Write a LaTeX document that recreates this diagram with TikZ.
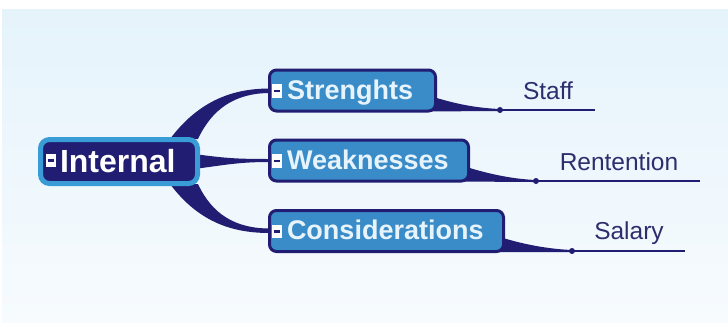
\documentclass[tikz,border=0pt]{standalone}
\usepackage{fontspec}
\setmainfont{Liberation Sans}
\usepackage{xcolor}
\usepackage{tikz}
\usetikzlibrary{positioning,calc}

\definecolor{navy}{HTML}{211D72}
\definecolor{skyedge}{HTML}{3A9CD6}
\definecolor{topicblue}{HTML}{3A8CC8}
\definecolor{topictext}{HTML}{E8F4FC}
\definecolor{leaftext}{HTML}{2E2E6E}
\definecolor{bgtop}{HTML}{E5F3FB}
\definecolor{bgbot}{HTML}{F7FBFE}

\pgfdeclarelayer{bg}
\pgfsetlayers{bg,main}

% collapse marker in front of a topic
\newcommand{\foldbox}[1]{\raisebox{#1}{\setlength{\fboxsep}{0pt}\colorbox{white}{\rule{0pt}{13.5pt}\makebox[10pt]{\color{navy}\rule[5.5pt]{6.5pt}{2.4pt}}}}}

\tikzset{
  central/.style={draw=skyedge, line width=5pt, fill=navy, rounded corners=9pt,
    text=white, font=\fontsize{32}{35}\selectfont\bfseries,
    text height=24pt, text depth=3pt, inner xsep=5.5pt, minimum height=44pt, align=left},
  topic/.style={draw=navy, line width=3pt, fill=topicblue, rounded corners=7pt,
    text=topictext, font=\fontsize{27}{30}\selectfont\bfseries,
    text height=20pt, text depth=3pt, inner xsep=2.5pt, minimum height=41pt, align=left},
  leaf/.style={anchor=base, text=leaftext, font=\fontsize{24.5}{28}\selectfont},
  branch/.style={fill=navy},
  leafline/.style={draw=navy, line width=1.6pt}
}

\begin{document}
\begin{tikzpicture}[x=1pt,y=-1pt]
\useasboundingbox (0,0) rectangle (728,322);

% Topics
\node[central, text width=146pt] (int) at (119,161.5) {\foldbox{5pt}\hspace{4pt}Internal};
\node[topic, text width=161pt] (str) at (352.5,90.5) {\foldbox{1.5pt}\hspace{5pt}Strenghts};
\node[topic, text width=194pt] (wea) at (369,160.5) {\foldbox{1.5pt}\hspace{5pt}Weaknesses};
\node[topic, text width=229pt] (con) at (386.5,231) {\foldbox{1.5pt}\hspace{5pt}Considerations};

% Subtopics
\coordinate (staffdot) at (500,110);
\coordinate (staffend) at (595,110);
\node[leaf] (staff) at (548,99.5) {Staff};
\coordinate (retdot) at (536,181);
\coordinate (retend) at (700,181);
\node[leaf] (ret) at (619,170) {Rentention};
\coordinate (saldot) at (572,251);
\coordinate (salend) at (685,251);
\node[leaf] (sal) at (629,239) {Salary};

\begin{pgfonlayer}{bg}
\fill[top color=bgtop, bottom color=bgbot] (2,9) rectangle (728,322);

% Main branches
\fill[branch] ($(int.north east)+(-30,2)$) .. controls +(30,-40) and +(-35,0) .. ($(str.west)+(2,-2)$)
  -- ($(str.west)+(2,2.5)$) .. controls +(-35,0) and +(14,-30) .. ($(int.north east)+(-2,2)$) -- cycle;
\fill[branch] ($(int.east)+(-2,-7)$) .. controls +(30,4) and +(-30,0) .. ($(wea.west)+(2,-1.5)$)
  -- ($(wea.west)+(2,1.5)$) .. controls +(-30,0) and +(30,-4) .. ($(int.east)+(-2,7)$) -- cycle;
\fill[branch] ($(int.south east)+(-30,-2)$) .. controls +(30,40) and +(-35,0) .. ($(con.west)+(2,2)$)
  -- ($(con.west)+(2,-2.5)$) .. controls +(-35,0) and +(14,30) .. ($(int.south east)+(-2,-2)$) -- cycle;

% Sub branches
\fill[branch] ($(str.south east)+(-2,-15)$) .. controls +(20,6) and +(-25,-1) .. ($(staffdot)+(0,-1)$)
  -- ($(staffdot)+(0,1)$) .. controls +(-25,0) and +(15,0) .. ($(str.south east)+(-8,-1)$) -- cycle;
\fill[branch] ($(wea.south east)+(-2,-15)$) .. controls +(20,6) and +(-25,-1) .. ($(retdot)+(0,-1)$)
  -- ($(retdot)+(0,1)$) .. controls +(-25,0) and +(15,0) .. ($(wea.south east)+(-8,-1)$) -- cycle;
\fill[branch] ($(con.south east)+(-2,-15)$) .. controls +(20,6) and +(-25,-1) .. ($(saldot)+(0,-1)$)
  -- ($(saldot)+(0,1)$) .. controls +(-25,0) and +(15,0) .. ($(con.south east)+(-8,-1)$) -- cycle;
\end{pgfonlayer}

\fill[navy] (staffdot) circle (3pt);
\draw[leafline] (staffdot) -- (staffend);
\fill[navy] (retdot) circle (3pt);
\draw[leafline] (retdot) -- (retend);
\fill[navy] (saldot) circle (3pt);
\draw[leafline] (saldot) -- (salend);
\end{tikzpicture}
\end{document}
